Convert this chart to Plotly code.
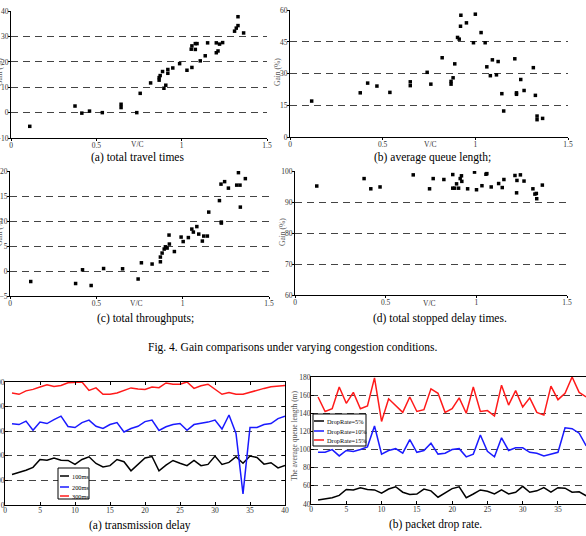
import plotly.graph_objects as go

W, H = 586, 536
def px(x): return x / W
def py(y): return 1 - y / H

# ---------- data ----------
# (a) total travel times
a_vc = [0.11,0.375,0.415,0.46,0.535,0.645,0.645,0.737,0.757,0.818,0.868,0.868,0.874,0.888,0.896,0.907,0.919,0.919,0.948,0.988,
        1.031,1.056,1.06,1.06,1.08,1.09,1.08,1.109,1.138,1.152,1.203,1.203,1.213,1.222,1.24,1.31,1.32,1.33,1.33,1.363]
a_gain = [-5.4,2.6,-0.2,0.6,0.0,3.3,2.0,0.0,7.6,11.7,13.8,12.8,14.6,16.2,9.6,10.8,17.0,15.5,17.6,19.3,
          16.7,25.0,26.3,17.8,27.2,27.2,24.9,20.4,22.4,27.5,27.5,23.6,24.3,27.0,27.6,32.1,33.3,34.3,37.8,31.4]
# (b) average queue length
b_vc = [0.117,0.379,0.419,0.469,0.539,0.649,0.649,0.74,0.76,0.821,0.869,0.869,0.88,0.889,0.904,0.913,0.92,0.922,0.952,0.99,
        1.0,1.031,1.053,1.062,1.081,1.092,1.114,1.123,1.143,1.153,1.213,1.222,1.222,1.245,1.263,1.313,1.324,1.333,1.333,1.363]
b_gain = [17.0,20.9,25.5,24.1,21.1,26.1,24.3,30.6,25.0,37.5,26.3,25.0,28.0,34.6,47.1,46.3,52.4,57.6,54.0,44.6,
          58.1,49.4,44.6,33.2,29.0,36.5,29.4,35.7,20.5,12.3,37.0,20.9,20.2,27.2,22.0,32.8,19.7,9.9,8.2,8.8]
# (c) total throughputs
c_vc = [0.12,0.38,0.42,0.47,0.542,0.652,0.742,0.761,0.823,0.871,0.871,0.881,0.893,0.9,0.91,0.921,0.923,0.952,0.991,1.003,
        1.033,1.053,1.062,1.082,1.093,1.114,1.122,1.143,1.151,1.213,1.222,1.224,1.224,1.243,1.265,1.313,1.323,1.332,1.334,1.363]
c_gain = [-2.1,-2.5,0.25,-2.9,0.5,0.45,-1.6,1.65,1.4,1.85,2.8,3.6,4.4,4.85,4.6,7.2,5.4,3.9,6.8,5.9,
          6.7,8.4,7.8,8.9,7.4,6.0,7.0,7.0,11.8,14.1,17.4,9.8,9.6,17.9,16.6,17.2,19.7,17.2,12.8,18.5]
# (d) total stopped delay times
d_vc = [0.12,0.381,0.418,0.469,0.652,0.742,0.762,0.821,0.87,0.87,0.88,0.891,0.902,0.911,0.918,0.92,0.952,0.99,1.001,1.031,
        1.053,1.058,1.082,1.123,1.143,1.152,1.213,1.222,1.224,1.243,1.263,1.312,1.323,1.331,1.333,1.364]
d_gain = [95.2,97.6,94.3,94.9,98.8,94.3,97.6,97.3,98.9,94.5,94.5,95.9,94.5,97.6,98.5,96.7,94.3,99.7,94.0,95.3,
          99.0,99.2,94.9,96.0,94.7,97.3,98.6,93.0,97.0,98.8,96.8,94.3,92.6,92.8,91.1,95.5]

# (a) transmission delay
e_x = list(range(1, 41))
e_100ms = [124,131,141,153,185,182,191,182,181,165,185,196,169,155,160,185,176,139,164,191,
           197,139,162,181,170,160,181,160,165,199,165,173,196,170,199,193,166,172,151,161]
e_200ms = [330,327,341,304,337,331,347,361,319,315,335,345,320,311,327,335,297,311,320,339,
           345,303,318,327,331,304,327,331,337,345,309,366,291,45,315,315,327,331,351,361]
e_300ms = [455,450,464,470,480,489,482,486,497,500,500,466,476,450,450,455,465,476,472,470,
           480,477,496,491,491,500,474,485,491,469,450,457,450,450,459,468,474,481,485,486]
# (b) packet drop rate
f_x = list(range(1, 40))
f_5 = [44.5,45.5,47,49.5,56,55.5,58,56,55.5,52,56.5,59,53,50.5,51,56.5,54.5,47.5,52,57,
       59,47,51,55.5,54,51,55.5,51,53,59.5,53,54.5,58,53,58,57.5,53,53.5,49]
f_10 = [97,97,100,93,99,98,100,103,126,95,99,101,96,111,97,99,107,95,96,100,
        101,92,95,116,98,92,113,99,102,102,97,96,93,95,97,124,123,118,104]
f_15 = [158,142,145,169,151,163,145,148,179,131,156,148,141,158,142,144,167,162,141,145,
        157,140,169,142,143,137,171,149,165,147,157,141,138,170,155,162,180,163,158]

e_names = ["100ms", "200ms", "300ms"]
f_names = ["DropRate=5%", "DropRate=10%", "DropRate=15%"]
COLORS = ["black", "#1a1aff", "#ff1a1a"]

SERIF = "Liberation Serif"
TICKF = dict(family=SERIF, size=7.5, color="#333")
GRID = dict(showgrid=True, gridcolor="#444", gridwidth=1, griddash="7px,5px")

fig = go.Figure()
mk = dict(symbol="square", size=3.5, color="black")
fig.add_trace(go.Scatter(x=a_vc, y=a_gain, mode="markers", marker=mk, xaxis="x", yaxis="y", showlegend=False))
fig.add_trace(go.Scatter(x=b_vc, y=b_gain, mode="markers", marker=mk, xaxis="x2", yaxis="y2", showlegend=False))
fig.add_trace(go.Scatter(x=c_vc, y=c_gain, mode="markers", marker=mk, xaxis="x3", yaxis="y3", showlegend=False))
fig.add_trace(go.Scatter(x=d_vc, y=d_gain, mode="markers", marker=mk, xaxis="x4", yaxis="y4", showlegend=False))

lw = 1.5
for ys, nm, c in zip([e_100ms, e_200ms, e_300ms], e_names, COLORS):
    fig.add_trace(go.Scatter(x=e_x, y=ys, mode="lines", name=nm, line=dict(color=c, width=lw),
                             xaxis="x5", yaxis="y5", showlegend=False))
for ys, nm, c in zip([f_5, f_10, f_15], f_names, COLORS):
    fig.add_trace(go.Scatter(x=f_x, y=ys, mode="lines", name=nm, line=dict(color=c, width=lw),
                             xaxis="x6", yaxis="y6", showlegend=False))

COMMON = dict(showline=True, linecolor="black", linewidth=1, tickcolor="black", zeroline=False,
              tickfont=TICKF, automargin=False, ticklabelstandoff=-2)

def sx(dom, anchor):
    return dict(domain=dom, anchor=anchor, range=[0, 1.5], tickvals=[0, 0.5, 1, 1.5], ticktext=["0", "0.5", "1", "1.5"],
                ticks="outside", ticklen=2, showgrid=False, **COMMON)
def sy(dom, anchor, rng, dt):
    return dict(domain=dom, anchor=anchor, range=rng, dtick=dt, tick0=rng[0],
                ticks="outside", ticklen=2, **GRID, **COMMON)

layout = dict(
    template="none",
    width=W, height=H, margin=dict(l=0, r=0, t=0, b=0), showlegend=False,
    paper_bgcolor="white", plot_bgcolor="white", font=dict(family=SERIF),
    xaxis=sx([px(11), px(267)], "y"), yaxis=sy([py(138), py(11)], "x", [-10, 40.05], 10),
    xaxis2=sx([px(290), px(568)], "y2"), yaxis2=sy([py(137), py(10)], "x2", [0, 60.08], 15),
    xaxis3=sx([px(10), px(269)], "y3"), yaxis3=sy([py(296), py(171)], "x3", [-5, 20.03], 5),
    xaxis4=sx([px(295), px(567)], "y4"), yaxis4=sy([py(295), py(171)], "x4", [60, 100.05], 10),
    xaxis5=dict(domain=[px(5), px(285)], anchor="y5", range=[0, 40], dtick=5, mirror="ticks",
                ticks="inside", ticklen=3, showgrid=False, **COMMON),
    yaxis5=dict(domain=[py(505), py(382)], anchor="x5", range=[0, 500], dtick=100, mirror="ticks",
                ticks="inside", ticklen=3, **GRID, **COMMON),
    xaxis6=dict(domain=[px(311), 1], anchor="y6", range=[0, 38.97], dtick=5, mirror=True,
                ticks="inside", ticklen=3, showgrid=False, **COMMON),
    yaxis6=dict(domain=[py(504), py(377)], anchor="x6", range=[40, 180], dtick=20, mirror=False,
                ticks="inside", ticklen=3, **GRID, **COMMON),
)
fig.update_layout(**layout)

anns = []
shapes = []
def txt(x, y, s, size=11.5, color="black", angle=0, xanchor="center"):
    anns.append(dict(x=px(x), y=py(y), xref="paper", yref="paper", text=s, showarrow=False,
                     font=dict(family=SERIF, size=size, color=color), textangle=angle,
                     xanchor=xanchor, yanchor="middle"))
# V/C labels
txt(137, 145, "V/C", 7.5, "#333"); txt(430, 145, "V/C", 7.5, "#333")
txt(136, 303, "V/C", 7.5, "#333"); txt(429, 303, "V/C", 7.5, "#333")
# Gain labels
txt(0, 72, "Gain (%)", 7.5, "#555", -90); txt(278, 72, "Gain (%)", 7.5, "#555", -90)
txt(0, 232, "Gain (%)", 7.5, "#555", -90); txt(283, 232, "Gain (%)", 7.5, "#555", -90)
# y title bottom right
txt(294, 436, "The average queue length (m)", 7.5, "#555", -90)
# captions
txt(137, 157, "(a) total travel times"); txt(432, 157, "(b) average queue length;")
txt(145, 318, "(c) total throughputs;"); txt(440, 318, "(d) total stopped delay times.")
txt(293, 347, "Fig. 4. Gain comparisons under varying congestion conditions.")
txt(140, 525, "(a) transmission delay"); txt(435, 524, "(b) packet drop rate.")

# legends (drawn boxes)
def legend_box(x0, y0, x1, y1, rows, names, lx0, lx1):
    shapes.append(dict(type="rect", xref="paper", yref="paper", x0=px(x0), x1=px(x1), y0=py(y1), y1=py(y0),
                       line=dict(color="black", width=1), fillcolor="white", layer="above"))
    for ry, nm, c in zip(rows, names, COLORS):
        shapes.append(dict(type="line", xref="paper", yref="paper", x0=px(lx0), x1=px(lx1), y0=py(ry), y1=py(ry),
                           line=dict(color=c, width=1.5), layer="above"))
        txt(lx1 + 1, ry, nm, 6.3, "black", xanchor="left")
legend_box(58, 468, 89, 499, [476, 487, 496], e_names, 60, 69)
legend_box(313, 414, 366, 446, [421, 431, 440], f_names, 314, 324)

fig.update_layout(annotations=anns, shapes=shapes)
fig.write_html("out.html")
